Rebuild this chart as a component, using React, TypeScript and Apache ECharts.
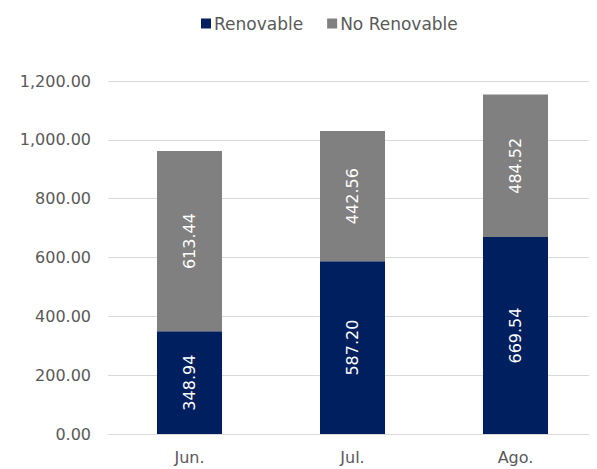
import React, { useEffect, useRef } from "react";
import * as echarts from "echarts";

const categories = ["Jun.", "Jul.", "Ago."];
const renovable = [348.94, 587.2, 669.54];
const noRenovable = [613.44, 442.56, 484.52];

export default function App() {
  const ref = useRef<HTMLDivElement>(null);
  useEffect(() => {
    const chart = echarts.init(ref.current!, null, { renderer: "svg" });
    const font = "'DejaVu Sans', sans-serif";
    const label = {
      show: true,
      position: "inside",
      rotate: 90,
      color: "#ffffff",
      fontSize: 16,
      fontFamily: font,
      formatter: (p: any) => p.value.toFixed(2),
    };
    chart.setOption({
      animation: false,
      legend: {
        top: 10,
        left: 196,
        icon: "rect",
        itemWidth: 10,
        itemHeight: 10,
        itemGap: 24,
        textStyle: { color: "#595959", fontSize: 17, fontFamily: font, padding: [0, 0, 0, -2] },
        data: ["Renovable", "No Renovable"],
      },
      grid: { left: 108, right: 0, top: 81, bottom: 35 },
      xAxis: {
        type: "category",
        data: categories,
        axisTick: { show: false },
        axisLine: { lineStyle: { color: "#d9d9d9", width: 1 } },
        axisLabel: { color: "#595959", fontSize: 16, fontFamily: font, margin: 15 },
      },
      yAxis: {
        type: "value",
        min: 0,
        max: 1200,
        interval: 200,
        axisLabel: {
          color: "#595959",
          fontSize: 16,
          fontFamily: font,
          margin: 17,
          formatter: (v: number) =>
            v.toLocaleString("en-US", { minimumFractionDigits: 2, maximumFractionDigits: 2 }),
        },
        splitLine: { lineStyle: { color: "#d9d9d9" } },
      },
      series: [
        {
          name: "Renovable",
          type: "bar",
          stack: "total",
          data: renovable,
          barWidth: 65,
          itemStyle: { color: "#001f5f" },
          label,
        },
        {
          name: "No Renovable",
          type: "bar",
          stack: "total",
          data: noRenovable,
          barWidth: 65,
          itemStyle: { color: "#808080" },
          label,
        },
      ],
    });
    return () => chart.dispose();
  }, []);
  return <div ref={ref} style={{ width: 597, height: 469, margin: "-8px 0 0 -8px" }} />;
}
